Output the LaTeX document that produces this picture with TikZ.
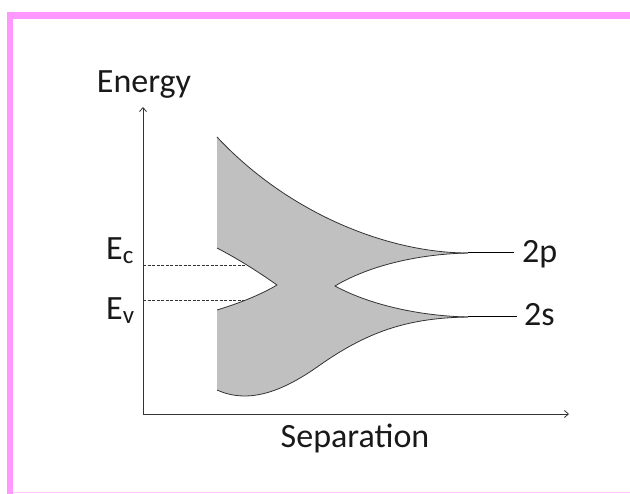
\documentclass[tikz,border=0pt]{standalone}
\usepackage{fontspec}
\setmainfont{Carlito}
\usetikzlibrary{arrows.meta}
\definecolor{pinkB}{HTML}{FF99FF}
\definecolor{pinkL}{HTML}{FFCCFF}
\definecolor{bandgray}{HTML}{C0C0C0}
\newcommand{\mysubsc}[1]{\raisebox{-4pt}{\fontsize{25}{25}\selectfont #1}}
\begin{document}
\begin{tikzpicture}[x=1pt,y=-1pt,
  axis/.style={draw=black!80, line width=0.8pt, -{Straight Barb[length=4pt,width=7pt]}},
  lbl/.style={font=\fontsize{34}{36}\selectfont, text=black!90, inner sep=0pt},
  edge/.style={draw=black!80, line width=0.8pt},
  level/.style={draw=black, line width=1pt},
  guide/.style={draw=black!80, line width=0.7pt, dash pattern=on 3pt off 1.5pt}]
\useasboundingbox (0,0) rectangle (630,494);
% frame
\fill[pinkB] (7,12) rectangle (630,19);
\fill[pinkB] (7,12) rectangle (13,494);
\draw[pinkL, line width=1pt] (13,493) -- (630,493);
% coordinates
\coordinate (O) at (143,414);
\coordinate (Ytip) at (143,107);
\coordinate (Xtip) at (569,414);
\coordinate (TL) at (217,137);
\coordinate (P) at (468,253);
\coordinate (S) at (468,317);
\coordinate (RT) at (335,286);
\coordinate (LT) at (277,285);
\coordinate (BL) at (217,390);
\coordinate (ML) at (217,310);
\coordinate (UL) at (217,248);
\coordinate (Pend) at (514,253);
\coordinate (Send) at (517,317);
\coordinate (EcL) at (143,265);
\coordinate (EcR) at (245,265);
\coordinate (EvL) at (143,300);
\coordinate (EvR) at (245,300);
% band fill
\fill[bandgray] (TL) .. controls (290,215) and (390,253) .. (P)
  .. controls (420,254) and (370,265) .. (RT)
  .. controls (370,305) and (420,316) .. (S)
  .. controls (410,318) and (370,330) .. (320,365)
  .. controls (285,390) and (250,405) .. (BL)
  -- (ML) .. controls (240,303) and (260,295) .. (LT)
  .. controls (260,273) and (240,260) .. (UL) -- cycle;
% band outlines
\draw[edge] (TL) .. controls (290,215) and (390,253) .. (P);
\draw[edge] (P) .. controls (420,254) and (370,265) .. (RT)
  .. controls (370,305) and (420,316) .. (S);
\draw[edge] (S) .. controls (410,318) and (370,330) .. (320,365)
  .. controls (285,390) and (250,405) .. (BL);
\draw[edge] (ML) .. controls (240,303) and (260,295) .. (LT)
  .. controls (260,273) and (240,260) .. (UL);
% levels
\draw[level] (P) -- (Pend);
\draw[level] (S) -- (Send);
% guides
\draw[guide] (EcL) -- (EcR);
\draw[guide] (EvL) -- (EvR);
% axes
\draw[axis] (O) -- (Ytip);
\draw[axis] (O) -- (Xtip);
% labels
\node[lbl, anchor=base] (energy) at (144,93) {Energy};
\node[lbl, anchor=base] (sep) at (355,448) {Separation};
\node[lbl, anchor=base west] (ec) at (106,260) {E\mysubsc{c}};
\node[lbl, anchor=base west] (ev) at (106,320) {E\mysubsc{v}};
\node[lbl, anchor=base west] (p2) at (522,263) {2p};
\node[lbl, anchor=base west] (s2) at (524,326) {2s};
\end{tikzpicture}
\end{document}
